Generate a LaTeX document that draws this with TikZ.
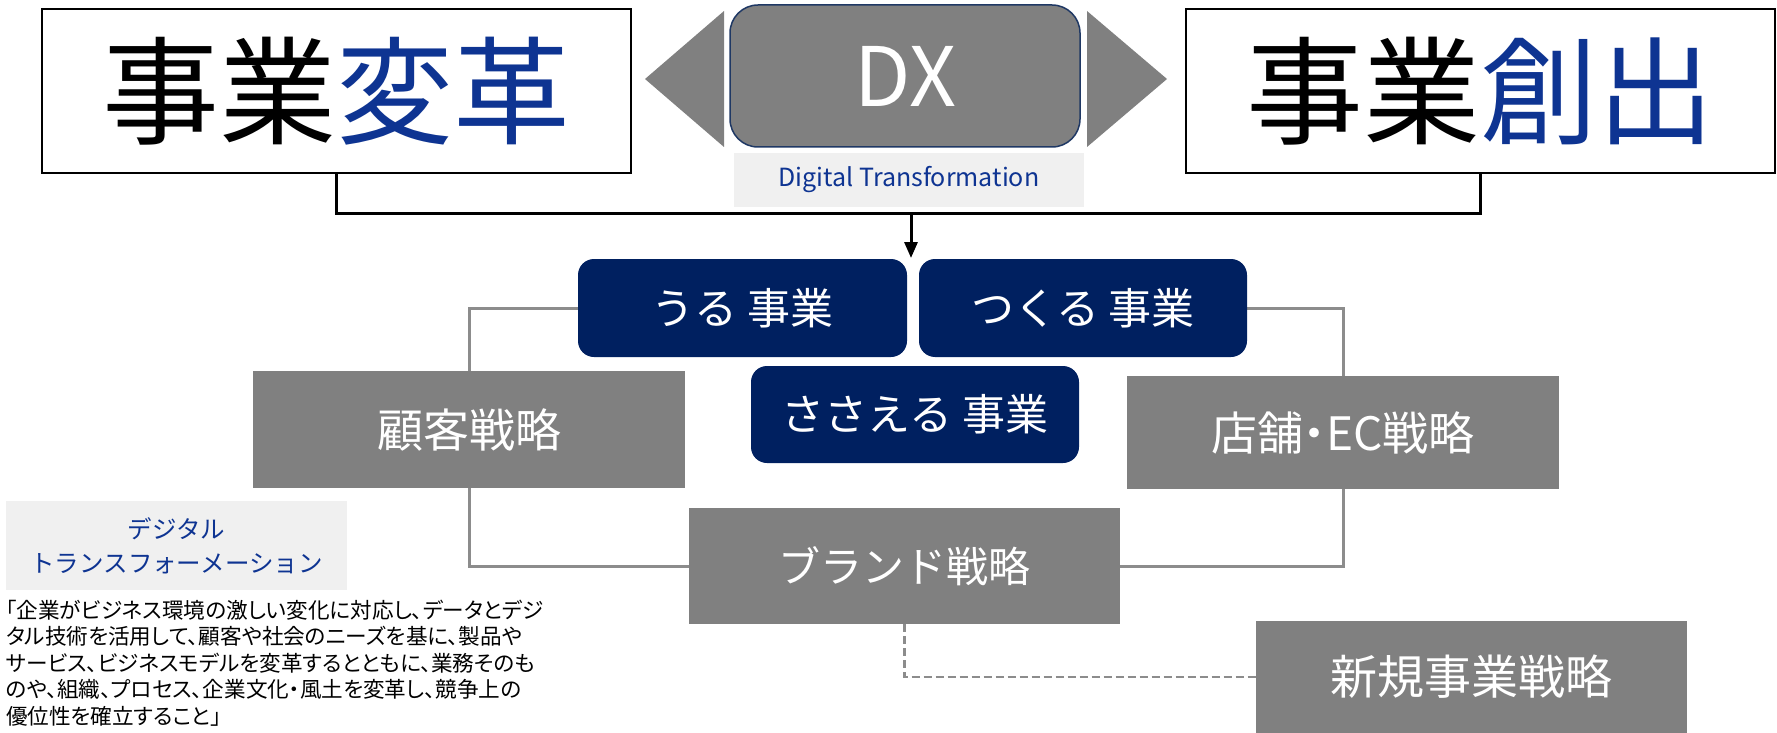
\documentclass[tikz,border=0pt]{standalone}
\usepackage{fontspec}
\setmainfont{Noto Sans CJK JP}
\newfontfamily\paltfont[RawFeature=+palt]{Noto Sans CJK JP}
\usetikzlibrary{arrows.meta}
\definecolor{boxgray}{RGB}{128,128,128}
\definecolor{navy}{RGB}{0,32,96}
\definecolor{dxborder}{RGB}{31,56,100}
\definecolor{txtblue}{RGB}{14,52,146}
\definecolor{lightbg}{RGB}{240,240,240}
\definecolor{linegray}{RGB}{140,140,140}
\pgfdeclarelayer{bg}
\pgfsetlayers{bg,main}
\begin{document}
\begin{tikzpicture}[x=1pt,y=-1pt,
  every node/.style={inner sep=0pt,outer sep=0pt},
  bigbox/.style={draw=black,line width=2pt,fill=white,minimum width=589pt,minimum height=164pt,font=\fontsize{117}{120}\selectfont},
  bizbox/.style={fill=navy,rounded corners=16pt,text=white,minimum width=328pt,minimum height=98pt,font=\fontsize{43}{50}\selectfont},
  stratbox/.style={fill=boxgray,text=white,minimum width=431pt,font=\fontsize{46}{50}\selectfont},
  conn/.style={line width=3pt,draw=black},
  glink/.style={line width=3pt,draw=linegray},
  dlink/.style={line width=2.5pt,draw=linegray,dash pattern=on 8pt off 4pt},
]
\useasboundingbox (0,0) rectangle (1777,733);
\begin{pgfonlayer}{bg}
\fill[white] (0,0) rectangle (1777,733);
\end{pgfonlayer}

% top row
\node[bigbox] (LB) at (336.5,91) {事業\textcolor{txtblue}{変革}};
\node[bigbox] (RB) at (1480.5,91) {事業\textcolor{txtblue}{創出}};
\fill[boxgray] (645,79) -- (724,11) -- (724,147) -- cycle;
\fill[boxgray] (1087,11) -- (1167,79) -- (1087,147) -- cycle;
\node[fill=boxgray,draw=dxborder,line width=1.5pt,rounded corners=28pt,minimum width=350pt,minimum height=142pt,text=white,font=\fontsize{82}{90}\selectfont] (DX) at (905,76) {DX};
\node[fill=lightbg,minimum width=350pt,minimum height=54pt,text=txtblue,font=\fontsize{25}{28}\selectfont] (DT) at (909,180) {Digital Transformation};

% business boxes
\node[bizbox,minimum width=329pt] (Uru) at (742.5,308) {うる 事業};
\node[bizbox] (Tsukuru) at (1083,308) {つくる 事業};
\node[bizbox,minimum height=97pt] (Sasaeru) at (915,414.5) {ささえる 事業};

% strategy boxes
\node[stratbox,minimum width=432pt,minimum height=117pt] (Kokyaku) at (469,429.5) {顧客戦略};
\node[stratbox,minimum width=432pt,minimum height=113pt,font=\paltfont\fontsize{46}{50}\selectfont] (Tenpo) at (1343,432.5) {店舗・EC戦略};
\node[stratbox,minimum height=116pt,font=\fontsize{42}{50}\selectfont] (Brand) at (904.5,566) {ブランド戦略};
\node[stratbox,minimum height=112pt,font=\fontsize{47}{50}\selectfont] (Shinki) at (1471.5,677) {新規事業戦略};

% DX definition
\node[fill=lightbg,minimum width=341pt,minimum height=89pt,text=txtblue,align=center,font=\fontsize{24.5}{34}\selectfont] (DGT) at (176.5,545.5) {デジタル\\トランスフォーメーション};
\node[anchor=north west,align=left,font=\paltfont\fontsize{21.6}{26.5}\selectfont] (para) at (6,600) {「企業がビジネス環境の激しい変化に対応し、データとデジ\\タル技術を活用して、顧客や社会のニーズを基に、製品や\\サービス、ビジネスモデルを変革するとともに、業務そのも\\のや、組織、プロセス、企業文化・風土を変革し、競争上の\\優位性を確立すること」};

% connectors
\coordinate (J) at (911,213);
\coordinate (T) at (911,258);
\draw[conn] (LB.south) |- (J) -| (RB.south);
\draw[conn,-{Triangle[length=16pt,width=13pt]}] (J) -- (T);

\begin{pgfonlayer}{bg}
\draw[glink] (Uru.west) -| (Kokyaku.center) |- (Brand.west);
\draw[glink] (Tsukuru.east) -| (Tenpo.center) |- (Brand.east);
\draw[dlink] (Brand.south) |- (Shinki.west);
\end{pgfonlayer}
\end{tikzpicture}
\end{document}
